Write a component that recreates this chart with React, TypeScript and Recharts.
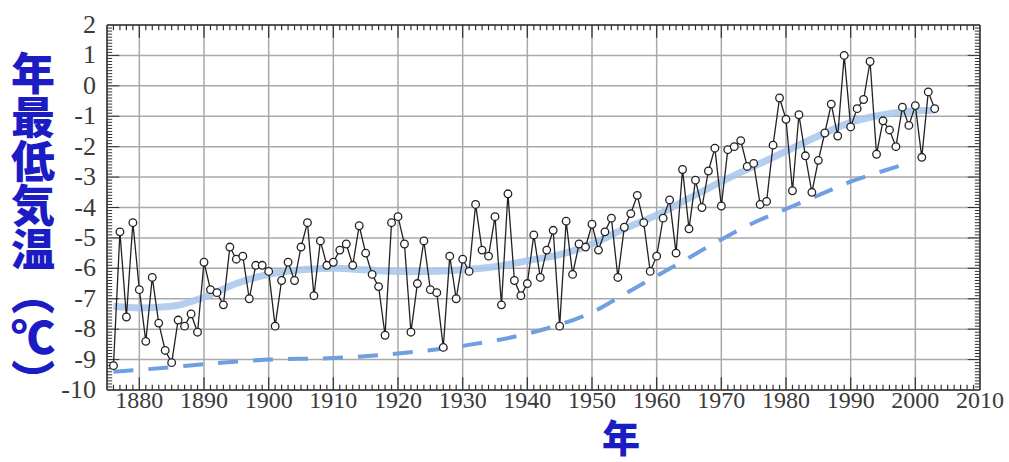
import {
  ComposedChart,
  Line,
  XAxis,
  YAxis,
  CartesianGrid,
  ReferenceLine,
} from "recharts";

// 年最低気温 observations, one per year starting 1876
const startYear = 1876;
const minTemps = [
  -9.2, -4.8, -7.6, -4.5, -6.7, -8.4, -6.3, -7.8, -8.7, -9.1,
  -7.7, -7.9, -7.5, -8.1, -5.8, -6.7, -6.8, -7.2, -5.3, -5.7,
  -5.6, -7.0, -5.9, -5.9, -6.1, -7.9, -6.4, -5.8, -6.4, -5.3,
  -4.5, -6.9, -5.1, -5.9, -5.8, -5.4, -5.2, -5.9, -4.6, -5.5,
  -6.2, -6.6, -8.2, -4.5, -4.3, -5.2, -8.1, -6.5, -5.1, -6.7,
  -6.8, -8.6, -5.6, -7.0, -5.7, -6.1, -3.9, -5.4, -5.6, -4.3,
  -7.2, -3.55, -6.4, -6.9, -6.5, -4.9, -6.3, -5.4, -4.75, -7.9,
  -4.45, -6.2, -5.2, -5.3, -4.55, -5.4, -4.8, -4.35, -6.3, -4.65,
  -4.2, -3.6, -4.5, -6.1, -5.6, -4.35, -3.75, -5.5, -2.75, -4.7,
  -3.1, -4.0, -2.8, -2.05, -3.95, -2.1, -2.0, -1.8, -2.65, -2.55,
  -3.9, -3.8, -1.95, -0.4, -1.1, -3.45, -0.95, -2.3, -3.5, -2.45,
  -1.55, -0.6, -1.65, 1.0, -1.35, -0.75, -0.45, 0.8, -2.25, -1.15,
  -1.45, -2.0, -0.7, -1.3, -0.65, -2.35, -0.2, -0.75,
];

// smoothed curve (light blue)
const smoothYears = [
  1876, 1880, 1885, 1890, 1895, 1900, 1905, 1910, 1915, 1920, 1925, 1930,
  1935, 1940, 1945, 1950, 1955, 1960, 1965, 1970, 1975, 1980, 1985, 1990,
  1995, 2000, 2003,
];
const smoothVals = [
  -7.25, -7.3, -7.25, -6.95, -6.5, -6.2, -6.05, -6.0, -6.05, -6.1, -6.1,
  -6.05, -5.95, -5.75, -5.55, -5.2, -4.7, -4.25, -3.7, -3.15, -2.65, -2.15,
  -1.65, -1.2, -0.95, -0.82, -0.8,
];

// dashed trend
const trendYears = [
  1876, 1885, 1890, 1900, 1910, 1920, 1930, 1940, 1945, 1950, 1955, 1960,
  1965, 1970, 1975, 1980, 1985, 1990, 1995, 1998,
];
const trendVals = [
  -9.4, -9.25, -9.15, -9.0, -8.95, -8.8, -8.55, -8.15, -7.85, -7.45, -6.85,
  -6.25, -5.65, -5.05, -4.5, -4.05, -3.6, -3.15, -2.8, -2.6,
];

const xTicks = [
  1880, 1890, 1900, 1910, 1920, 1930, 1940, 1950, 1960, 1970, 1980, 1990,
  2000, 2010,
];
const yTicks = [-10, -9, -8, -7, -6, -5, -4, -3, -2, -1, 0, 1, 2];

const X_MIN = 1875;
const X_MAX = 2010;
const Y_MIN = -10;
const Y_MAX = 2;

// merged table for the chart
const data = minTemps.map((v, i) => {
  const year = startYear + i;
  const si = smoothYears.indexOf(year);
  const ti = trendYears.indexOf(year);
  return {
    year,
    temp: v,
    smooth: si >= 0 ? smoothVals[si] : null,
    trend: ti >= 0 ? trendVals[ti] : null,
  };
});

// inward minor/major tick marks round the frame
const yearMarks: number[] = [];
for (let y = X_MIN + 1; y < X_MAX; y++) yearMarks.push(y);
const tempMarks: number[] = [];
for (let k = Y_MIN * 10 + 1; k < Y_MAX * 10; k++) tempMarks.push(k / 10);

const FRAME = "#333";
const BLUE_TITLE = "#1c1cc4";
const serif = "'Liberation Serif', 'Times New Roman', 'DejaVu Serif', serif";

const XTick = (props: any) => {
  const { x, y, payload } = props;
  return (
    <text
      x={x}
      y={y}
      dy={18}
      textAnchor="middle"
      fill="#3a3a3a"
      style={{ fontFamily: serif, fontSize: 24 }}
    >
      {payload.value}
    </text>
  );
};

const YTick = (props: any) => {
  const { x, y, payload } = props;
  return (
    <text
      x={x}
      y={y}
      dy={8}
      textAnchor="end"
      fill="#3a3a3a"
      style={{ fontFamily: serif, fontSize: 26 }}
    >
      {payload.value}
    </text>
  );
};

const App = () => {
  return (
    <div
      style={{
        position: "absolute",
        left: 0,
        top: 0,
        width: 1009,
        height: 462,
        background: "#fff",
        overflow: "hidden",
      }}
    >
      <div
        style={{
          position: "absolute",
          left: 11,
          top: 51,
          writingMode: "vertical-rl",
          fontFamily: "'Noto Sans CJK JP', sans-serif",
          fontWeight: 900,
          fontSize: 44,
          lineHeight: 1,
          color: BLUE_TITLE,
        }}
      >
        年最低気温（℃）
      </div>
      <div
        style={{
          position: "absolute",
          left: 602,
          top: 417,
          fontFamily: "'Noto Sans CJK JP', sans-serif",
          fontWeight: 900,
          fontSize: 38,
          lineHeight: 1,
          color: BLUE_TITLE,
        }}
      >
        年
      </div>

      <ComposedChart
        width={1009}
        height={462}
        data={data}
        margin={{ top: 25, right: 29, bottom: 32, left: 47 }}
      >
        <CartesianGrid stroke="#a9a9a9" strokeWidth={1.5} />
        <XAxis
          dataKey="year"
          type="number"
          domain={[X_MIN, X_MAX]}
          ticks={xTicks}
          interval={0}
          height={40}
          tickLine={false}
          tickSize={0}
          tickMargin={0}
          axisLine={{ stroke: FRAME, strokeWidth: 1.5 }}
          tick={<XTick />}
        />
        <YAxis
          type="number"
          domain={[Y_MIN, Y_MAX]}
          ticks={yTicks}
          interval={0}
          width={60}
          tickLine={false}
          tickSize={0}
          tickMargin={11}
          axisLine={{ stroke: FRAME, strokeWidth: 1.5 }}
          tick={<YTick />}
        />
        <ReferenceLine x={X_MAX} stroke={FRAME} strokeWidth={1.5} />
        <ReferenceLine y={Y_MAX} stroke={FRAME} strokeWidth={1.5} />

        {yearMarks.map((yr) => {
          const len = yr % 10 === 0 ? 0.42 : 0.17;
          return [
            <ReferenceLine
              key={`b${yr}`}
              segment={[
                { x: yr, y: Y_MIN },
                { x: yr, y: Y_MIN + len },
              ]}
              stroke={FRAME}
              strokeWidth={1.2}
            />,
            <ReferenceLine
              key={`t${yr}`}
              segment={[
                { x: yr, y: Y_MAX },
                { x: yr, y: Y_MAX - len },
              ]}
              stroke={FRAME}
              strokeWidth={1.2}
            />,
          ];
        })}
        {tempMarks.map((v) => {
          const len = Math.abs(v - Math.round(v)) < 0.001 ? 1.9 : 0.8;
          return [
            <ReferenceLine
              key={`l${v}`}
              segment={[
                { x: X_MIN, y: v },
                { x: X_MIN + len, y: v },
              ]}
              stroke={FRAME}
              strokeWidth={1}
            />,
            <ReferenceLine
              key={`r${v}`}
              segment={[
                { x: X_MAX, y: v },
                { x: X_MAX - len, y: v },
              ]}
              stroke={FRAME}
              strokeWidth={1}
            />,
          ];
        })}

        <Line
          dataKey="smooth"
          type="monotone"
          connectNulls
          stroke="#a7c6ec"
          strokeOpacity={0.85}
          strokeWidth={7}
          dot={false}
          activeDot={false}
          isAnimationActive={false}
        />
        <Line
          dataKey="trend"
          type="monotone"
          connectNulls
          stroke="#6f9fe0"
          strokeWidth={4}
          strokeDasharray="20 15"
          dot={false}
          activeDot={false}
          isAnimationActive={false}
        />
        <Line
          dataKey="temp"
          type="linear"
          stroke="#222"
          strokeWidth={1.3}
          dot={{ r: 3.8, fill: "#fff", stroke: "#222", strokeWidth: 1.3 }}
          activeDot={false}
          isAnimationActive={false}
        />
      </ComposedChart>
    </div>
  );
};

export default App;
